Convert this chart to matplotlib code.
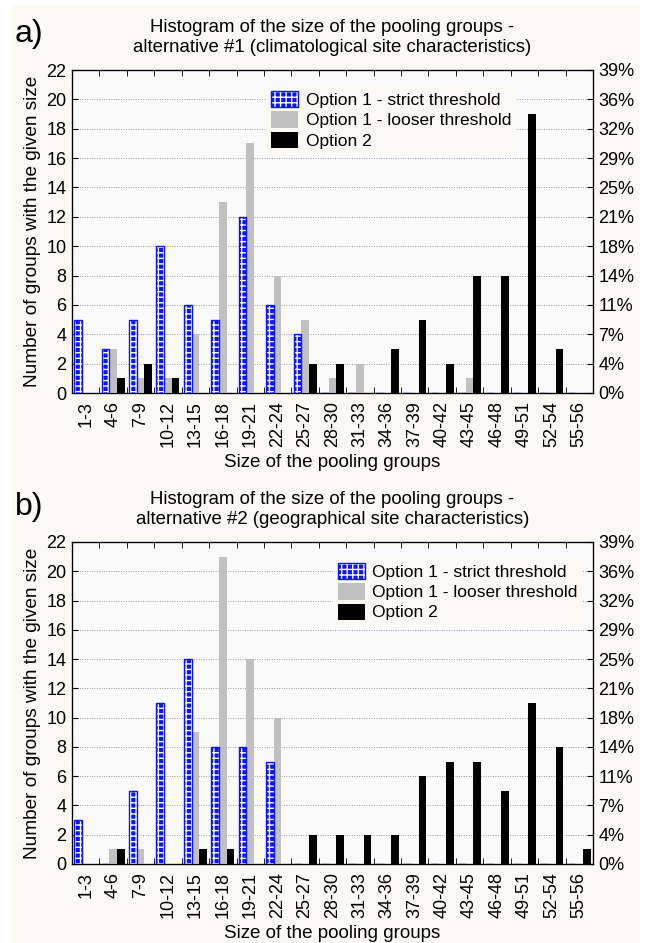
import matplotlib
matplotlib.use("Agg")
import matplotlib.pyplot as plt
from matplotlib.patches import Patch, Rectangle
from matplotlib.legend_handler import HandlerTuple
from matplotlib.ticker import FixedLocator, FuncFormatter
import numpy as np

plt.rcParams['font.family'] = ['Liberation Sans', 'DejaVu Sans']
plt.rcParams['hatch.linewidth'] = 1.0

sizes = ['1-3', '4-6', '7-9', '10-12', '13-15', '16-18', '19-21', '22-24', '25-27',
         '28-30', '31-33', '34-36', '37-39', '40-42', '43-45', '46-48', '49-51',
         '52-54', '55-56']
total_groups = 56

# alternative #1 (climatological)
strict_a = [5, 3, 5, 10, 6, 5, 12, 6, 4, 0, 0, 0, 0, 0, 0, 0, 0, 0, 0]
looser_a = [0, 3, 1, 1, 4, 13, 17, 8, 5, 1, 2, 0, 0, 0, 1, 0, 0, 0, 0]
opt2_a = [0, 1, 2, 1, 0, 0, 0, 0, 2, 2, 0, 3, 5, 2, 8, 8, 19, 3, 0]

# alternative #2 (geographical)
strict_b = [3, 0, 5, 11, 14, 8, 8, 7, 0, 0, 0, 0, 0, 0, 0, 0, 0, 0, 0]
looser_b = [0, 1, 1, 0, 9, 21, 14, 10, 0, 0, 0, 0, 0, 0, 0, 0, 0, 0, 0]
opt2_b = [0, 1, 0, 0, 1, 1, 0, 0, 2, 2, 2, 2, 6, 7, 7, 5, 11, 8, 1]

labels = ['Option 1 - strict threshold', 'Option 1 - looser threshold', 'Option 2']

BLUE = '#0a14ff'
GRAY = '#c0c0c0'
BG = '#fcf8f3'


def panel(ax, strict, looser, opt2, title, letter, leg_x):
    x = np.arange(len(sizes))
    w = 0.28
    ax.set_facecolor('#fafafa')
    ax.bar(x - w, strict, w, color=BLUE, edgecolor='white', hatch='+++', linewidth=0, zorder=3)
    ax.bar(x - w, strict, w, fill=False, edgecolor=BLUE, linewidth=1.0, zorder=4)
    ax.bar(x, looser, w, color=GRAY, linewidth=0, zorder=3)
    ax.bar(x + w, opt2, w, color='black', linewidth=0, zorder=3)

    ax.set_xlim(-0.5, len(sizes) - 0.5)
    ax.set_ylim(0, 22)
    ax.set_yticks(range(0, 23, 2))
    ax.set_xticks(x)
    ax.set_xticklabels(sizes, rotation=90, fontsize=13)
    ax.xaxis.set_minor_locator(FixedLocator(np.arange(-0.5, len(sizes), 1)))
    ax.tick_params(axis='x', which='major', length=0, pad=6)
    ax.tick_params(axis='x', which='minor', direction='in', length=4, top=True, bottom=True)
    ax.tick_params(axis='y', direction='in', length=4, labelsize=13, pad=4)
    for y in range(2, 22, 2):
        ax.axhline(y, color='#9a9a9a', linestyle=(0, (1, 1.5)), linewidth=0.7, zorder=1)
    for s in ax.spines.values():
        s.set_linewidth(0.9)

    ax2 = ax.twinx()
    ax2.set_ylim(0, 22)
    ax2.set_yticks(range(0, 23, 2))
    ax2.yaxis.set_major_formatter(FuncFormatter(lambda v, p: '%d%%' % round(v / total_groups * 100)))
    ax2.tick_params(axis='y', direction='in', length=4, labelsize=13, pad=4)

    ax.set_xlabel('Size of the pooling groups', fontsize=13.5, labelpad=5)
    ax.set_ylabel('Number of groups with the given size', fontsize=13.7, labelpad=4)
    ax.set_title(title, fontsize=13.4, pad=13, linespacing=1.2)
    ax.text(-0.11, 1.11, letter, transform=ax.transAxes, fontsize=23, va='center', ha='left')

    handles = [
        (Patch(facecolor=BLUE, edgecolor='white', hatch='+++', linewidth=0),
         Patch(fill=False, edgecolor=BLUE, linewidth=1.0)),
        Patch(facecolor=GRAY, linewidth=0),
        Patch(facecolor='black', linewidth=0),
    ]
    leg = ax.legend(handles, labels, loc='upper left', bbox_to_anchor=(leg_x, 0.95),
                    fontsize=12.5, frameon=True, fancybox=False, framealpha=1,
                    handlelength=1.55, handleheight=1.05, labelspacing=0.18,
                    handletextpad=0.45, borderpad=0.3, borderaxespad=0,
                    handler_map={tuple: HandlerTuple(ndivide=1)})
    leg.get_frame().set_facecolor(BG)
    leg.get_frame().set_edgecolor('none')
    leg.set_zorder(6)


fig = plt.figure(figsize=(6.49, 9.43), dpi=100, facecolor='white')
fig.add_artist(Rectangle((12 / 649, 0), 628 / 649, 1 - 5 / 943, transform=fig.transFigure,
                         facecolor=BG, edgecolor='none', zorder=-10))

ax_a = fig.add_axes([72 / 649, 1 - 393 / 943, 521 / 649, 323 / 943])
panel(ax_a, strict_a, looser_a, opt2_a,
      'Histogram of the size of the pooling groups -\nalternative #1 (climatological site characteristics)',
      'a)', 0.372)

ax_b = fig.add_axes([72 / 649, 1 - 864 / 943, 521 / 649, 322 / 943])
panel(ax_b, strict_b, looser_b, opt2_b,
      'Histogram of the size of the pooling groups -\nalternative #2 (geographical site characteristics)',
      'b)', 0.50)

fig.savefig('out.png', dpi=100, facecolor=fig.get_facecolor())
